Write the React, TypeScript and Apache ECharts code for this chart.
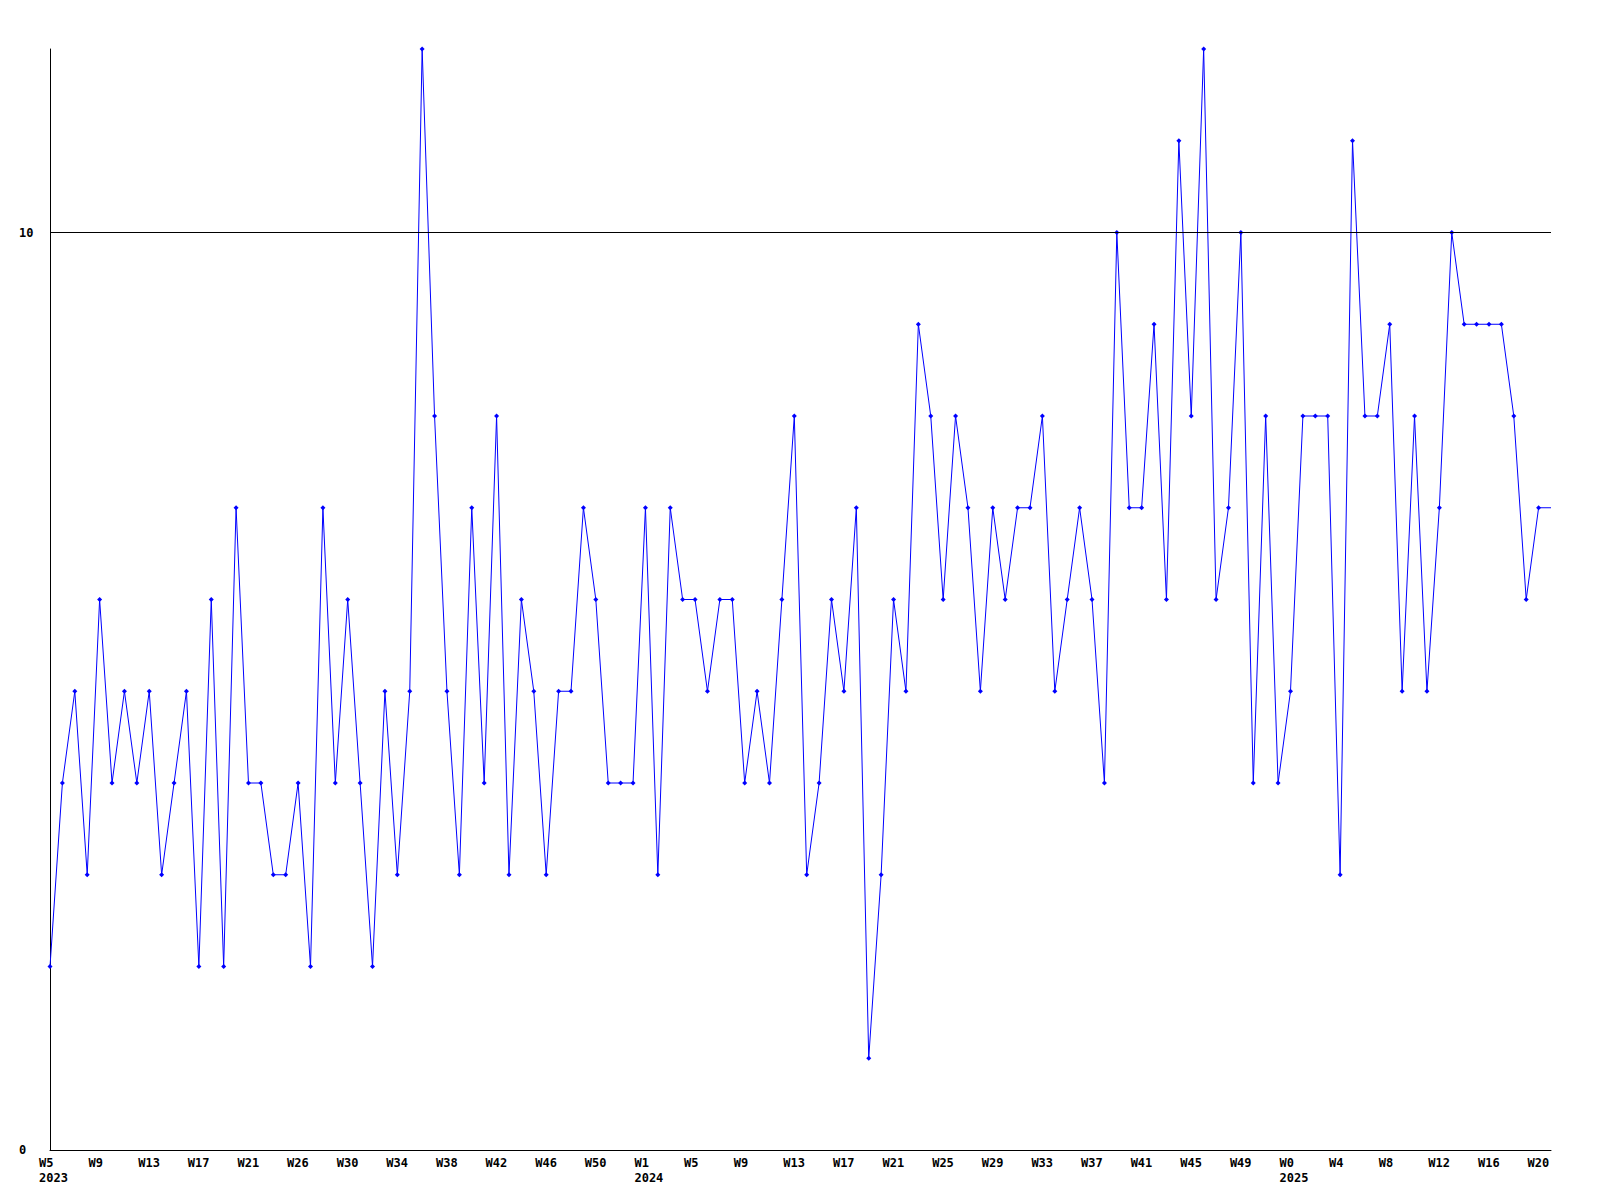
import React, { useEffect, useRef } from "react";
import * as echarts from "echarts";

// Weekly values, one per point (W5 2023 ... W21 2025)
const values: number[] = [
  2, 4, 5, 3, 6, 4, 5, 4, 5, 3, 4, 5, 2, 6, 2, 7,
  4, 4, 3, 3, 4, 2, 7, 4, 6, 4, 2, 5, 3, 5, 12,
  8, 5, 3, 7, 4, 8, 3, 6, 5, 3, 5, 5, 7, 6, 4,
  4, 4, 7, 3, 7, 6, 6, 5, 6, 6, 4, 5, 4, 6, 8, 3,
  4, 6, 5, 7, 1, 3, 6, 5, 9, 8, 6, 8, 7, 5, 7,
  6, 7, 7, 8, 5, 6, 7, 6, 4, 10, 7, 7, 9, 6, 11, 8,
  12, 6, 7, 10, 4, 8, 4, 5, 8, 8, 8, 3, 11, 8, 8,
  9, 5, 8, 5, 7, 10, 9, 9, 9, 9, 8, 6, 7, 7,
];

// Tick labels, shown on every 4th point
const tickLabels: string[] = [
  "W5", "W9", "W13", "W17", "W21", "W26", "W30", "W34", "W38", "W42", "W46", "W50",
  "W1", "W5", "W9", "W13", "W17", "W21", "W25", "W29", "W33", "W37", "W41", "W45", "W49",
  "W0", "W4", "W8", "W12", "W16", "W20",
];

// Year captions under specific point indices
const yearIndex: number[] = [0, 48, 100];
const yearLabels: string[] = ["2023", "2024", "2025"];

const referenceLine = 10;
const FONT = "'DejaVu Sans Mono', monospace";

export default function App() {
  const ref = useRef<HTMLDivElement>(null);

  useEffect(() => {
    if (!ref.current) return;
    const chart = echarts.init(ref.current, null, { renderer: "svg" });
    const categories = values.map((_, i) => String(i));
    const last = values.length - 1;

    chart.setOption({
      animation: false,
      backgroundColor: "#ffffff",
      grid: { left: 50, right: 49, top: 49, bottom: 50, containLabel: false },
      xAxis: {
        type: "category",
        data: categories,
        boundaryGap: false,
        axisLine: { show: true, lineStyle: { color: "#000", width: 1 } },
        axisTick: { show: false },
        splitLine: { show: false },
        axisLabel: {
          interval: 3,
          margin: 5,
          align: "left",
          padding: [0, 0, 0, -11],
          color: "#000",
          fontFamily: FONT,
          fontWeight: "bold",
          fontSize: 12,
          lineHeight: 15,
          formatter: (_v: string, idx: number) => {
            const t = tickLabels[Math.round(idx / 4)] ?? "";
            const yi = yearIndex.indexOf(idx);
            return yi >= 0 ? t + "\n" + yearLabels[yi] : t;
          },
        },
      },
      yAxis: {
        type: "value",
        min: 0,
        max: 12,
        interval: 10,
        axisLine: { show: true, lineStyle: { color: "#000", width: 1 } },
        axisTick: { show: false },
        splitLine: { show: false },
        axisLabel: {
          showMaxLabel: false,
          align: "left",
          margin: 31,
          color: "#000",
          fontFamily: FONT,
          fontWeight: "bold",
          fontSize: 12,
        },
      },
      series: [
        {
          type: "line",
          data: values,
          symbol: "diamond",
          symbolSize: (_v: number, p: any) => (p.dataIndex === last ? 0 : 5),
          showAllSymbol: true,
          lineStyle: { color: "#0000ff", width: 1 },
          itemStyle: { color: "#0000ff" },
          markLine: {
            silent: true,
            symbol: "none",
            label: { show: false },
            lineStyle: { color: "#000", type: "solid", width: 1 },
            data: [{ yAxis: referenceLine }],
          },
          z: 3,
        },
      ],
    });

    return () => chart.dispose();
  }, []);

  return (
    <div
      ref={ref}
      style={{ position: "absolute", left: 0, top: 0, width: 1600, height: 1200, background: "#fff" }}
    />
  );
}
